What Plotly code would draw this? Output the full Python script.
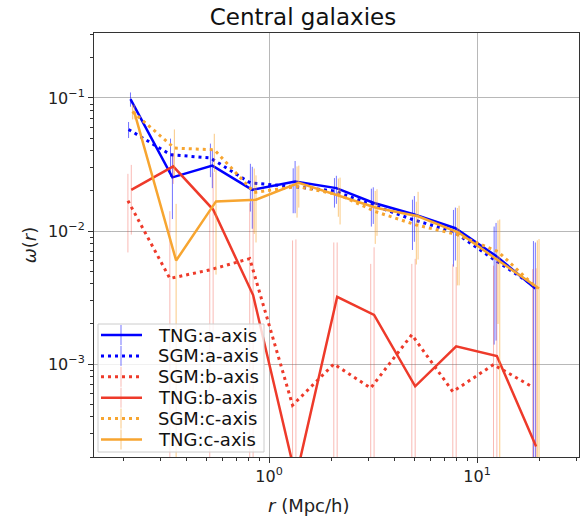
import numpy as np
import plotly.graph_objects as go

# ---------------- data ----------------
r_bins = [0.215, 0.342, 0.532, 0.828, 1.33, 2.10, 3.16, 4.98, 7.84, 12.3, 19.0]

tng_a = [0.098, 0.0253, 0.031, 0.0204, 0.0236, 0.021, 0.0163, 0.0133, 0.0105, 0.0065, 0.0037]
tng_a_err = [0.012, 0.013, 0.010, 0.010, 0.010, 0.005, 0.005, 0.005, 0.0045, 0.005, 0.0045]

sgm_a = [0.058, 0.0375, 0.0354, 0.023, 0.0216, 0.020, 0.0158, 0.0122, 0.0099, 0.0061, 0.0039]
sgm_a_err = [0.008, 0.012, 0.010, 0.009, 0.008, 0.005, 0.005, 0.005, 0.0045, 0.0047, 0.0045]

sgm_b = [0.0169, 0.0044, 0.0051, 0.0062, 0.00049, 0.00100, 0.00066, 0.00166, 0.00062, 0.00099, 0.00067]
sgm_b_err = [0.010, 0.0097, 0.009, 0.010, 0.008, 0.0072, 0.005, 0.004, 0.005, 0.0045, 0.0045]

tng_b = [0.0204, 0.0306, 0.0145, 0.0033, 0.00014, 0.0032, 0.00234, 0.00068, 0.00136, 0.00115, 0.00024]
tng_b_err = [0.011, 0.008, 0.013, 0.014, 0.0085, 0.005, 0.0052, 0.0055, 0.004, 0.0047, 0.005]

sgm_c = [0.079, 0.042, 0.0408, 0.0195, 0.0216, 0.0188, 0.014, 0.0111, 0.0094, 0.0070, 0.0037]
sgm_c_err = [0.010, 0.016, 0.013, 0.010, 0.009, 0.006, 0.006, 0.0055, 0.0055, 0.005, 0.0048]

tng_c = [0.079, 0.0060, 0.0167, 0.0172, 0.023, 0.0182, 0.0149, 0.0129, 0.0097, 0.0059, 0.0037]
tng_c_err = [0.010, 0.010, 0.012, 0.009, 0.008, 0.007, 0.0057, 0.0068, 0.0058, 0.0063, 0.005]

y_tickvals = [1e-3, 1e-2, 1e-1]
y_ticktext = ["10<sup>−3</sup>", "10<sup>−2</sup>", "10<sup>−1</sup>"]
x_tickvals = [1, 10]
x_ticktext = ["10<sup>0</sup>", "10<sup>1</sup>"]

# ---------------- style ----------------
BLUE = "#0000ff"
RED = "#ee3a2a"
ORANGE = "#f7a530"
FONT = "DejaVu Sans"
DOT = "3px,4px"

series = [
    ("TNG:a-axis", tng_a, tng_a_err, BLUE, "solid", 1.003, "rgba(0,0,255,0.55)"),
    ("SGM:a-axis", sgm_a, sgm_a_err, BLUE, DOT, 0.982, "rgba(0,0,255,0.55)"),
    ("SGM:b-axis", sgm_b, sgm_b_err, RED, DOT, 0.975, "rgba(238,58,42,0.35)"),
    ("TNG:b-axis", tng_b, tng_b_err, RED, "solid", 1.012, "rgba(238,58,42,0.35)"),
    ("SGM:c-axis", sgm_c, sgm_c_err, ORANGE, DOT, 1.025, "rgba(247,165,48,0.6)"),
    ("TNG:c-axis", tng_c, tng_c_err, ORANGE, "solid", 1.045, "rgba(247,165,48,0.6)"),
]

W, H = 585, 521
L, R, T, B = 94, 6, 33, 64
PW, PH = W - L - R, H - T - B

def px2x(px):
    return (px - L) / PW

def px2y(py):
    return (H - B - py) / PH

fig = go.Figure()
for name, y, err, col, dash, shift, ecol in series:
    x = [v * shift for v in r_bins]
    fig.add_trace(go.Scatter(
        x=x, y=y, name=name, mode="lines", showlegend=False,
        line=dict(color=col, width=2.5 if dash == "solid" else 3, dash=dash),
        error_y=dict(type="data", array=err, visible=True, color=ecol,
                     thickness=1, width=0),
    ))

def minor_vals(lo, hi):
    out = []
    for d in range(lo, hi + 1):
        for m in range(2, 10):
            out.append(m * 10.0 ** d)
    return out

axis_common = dict(
    type="log", showline=True, linecolor="#333", linewidth=1, mirror=True,
    ticks="outside", ticklen=5, tickwidth=1, tickcolor="#333",
    showgrid=True, gridcolor="#b8b8b8", gridwidth=1, zeroline=False,
    tickfont=dict(family=FONT, size=16, color="#222"), tickmode="array",
)

fig.update_xaxes(
    **axis_common,
    range=[np.log10(0.144), np.log10(30.9)],
    tickvals=x_tickvals, ticktext=x_ticktext,
    minor=dict(tickvals=minor_vals(-1, 1), ticks="outside", ticklen=3,
               tickcolor="#333", showgrid=False),
)
fig.update_yaxes(
    **axis_common,
    range=[np.log10(2.0e-4), np.log10(0.308)],
    tickvals=y_tickvals, ticktext=y_ticktext,
    minor=dict(tickvals=minor_vals(-4, -1), ticks="outside", ticklen=3,
               tickcolor="#333", showgrid=False),
    title=dict(text="<i>ω</i>(<i>r</i>)", font=dict(family=FONT, size=18, color="#222"),
               standoff=6),
)

# ---------- legend drawn as shapes + text ----------
shapes = []
annotations = []
box_l, box_r, box_t, box_b = 98, 264, 324, 452
shapes.append(dict(type="rect", xref="paper", yref="paper", layer="above",
                   x0=px2x(box_l), x1=px2x(box_r), y0=px2y(box_b), y1=px2y(box_t),
                   fillcolor="rgba(255,255,255,0.8)", line=dict(color="#cccccc", width=1)))
row0, row_gap = 335, 20.9
for i, (name, y, err, col, dash, shift, ecol) in enumerate(series):
    cy = row0 + i * row_gap
    shapes.append(dict(type="line", xref="paper", yref="paper", layer="above",
                       x0=px2x(101), x1=px2x(142), y0=px2y(cy), y1=px2y(cy),
                       line=dict(color=col, width=2.5 if dash == "solid" else 3, dash=dash)))
    shapes.append(dict(type="line", xref="paper", yref="paper", layer="above",
                       x0=px2x(121), x1=px2x(121), y0=px2y(cy - 10), y1=px2y(cy + 10),
                       line=dict(color=ecol, width=1)))
    annotations.append(dict(text=name, xref="paper", yref="paper",
                            x=px2x(156), y=px2y(cy), xanchor="left", yanchor="middle",
                            showarrow=False,
                            font=dict(family=FONT, size=18, color="#111")))

annotations.append(dict(text="<i>r</i> (Mpc/h)", xref="paper", yref="paper",
                        x=px2x(309), y=px2y(506), xanchor="center", yanchor="middle",
                        showarrow=False, font=dict(family=FONT, size=18, color="#222")))

fig.update_layout(
    width=W, height=H,
    margin=dict(l=L, r=R, t=T, b=B, autoexpand=False),
    paper_bgcolor="white", plot_bgcolor="white",
    font=dict(family=FONT, color="#222"),
    title=dict(text="Central galaxies", x=303 / W, xref="container", xanchor="center",
               y=1 - 17 / H, yref="container", yanchor="middle",
               font=dict(family=FONT, size=23, color="#111")),
    showlegend=False,
    shapes=shapes,
    annotations=annotations,
)

fig.write_html("out.html")
